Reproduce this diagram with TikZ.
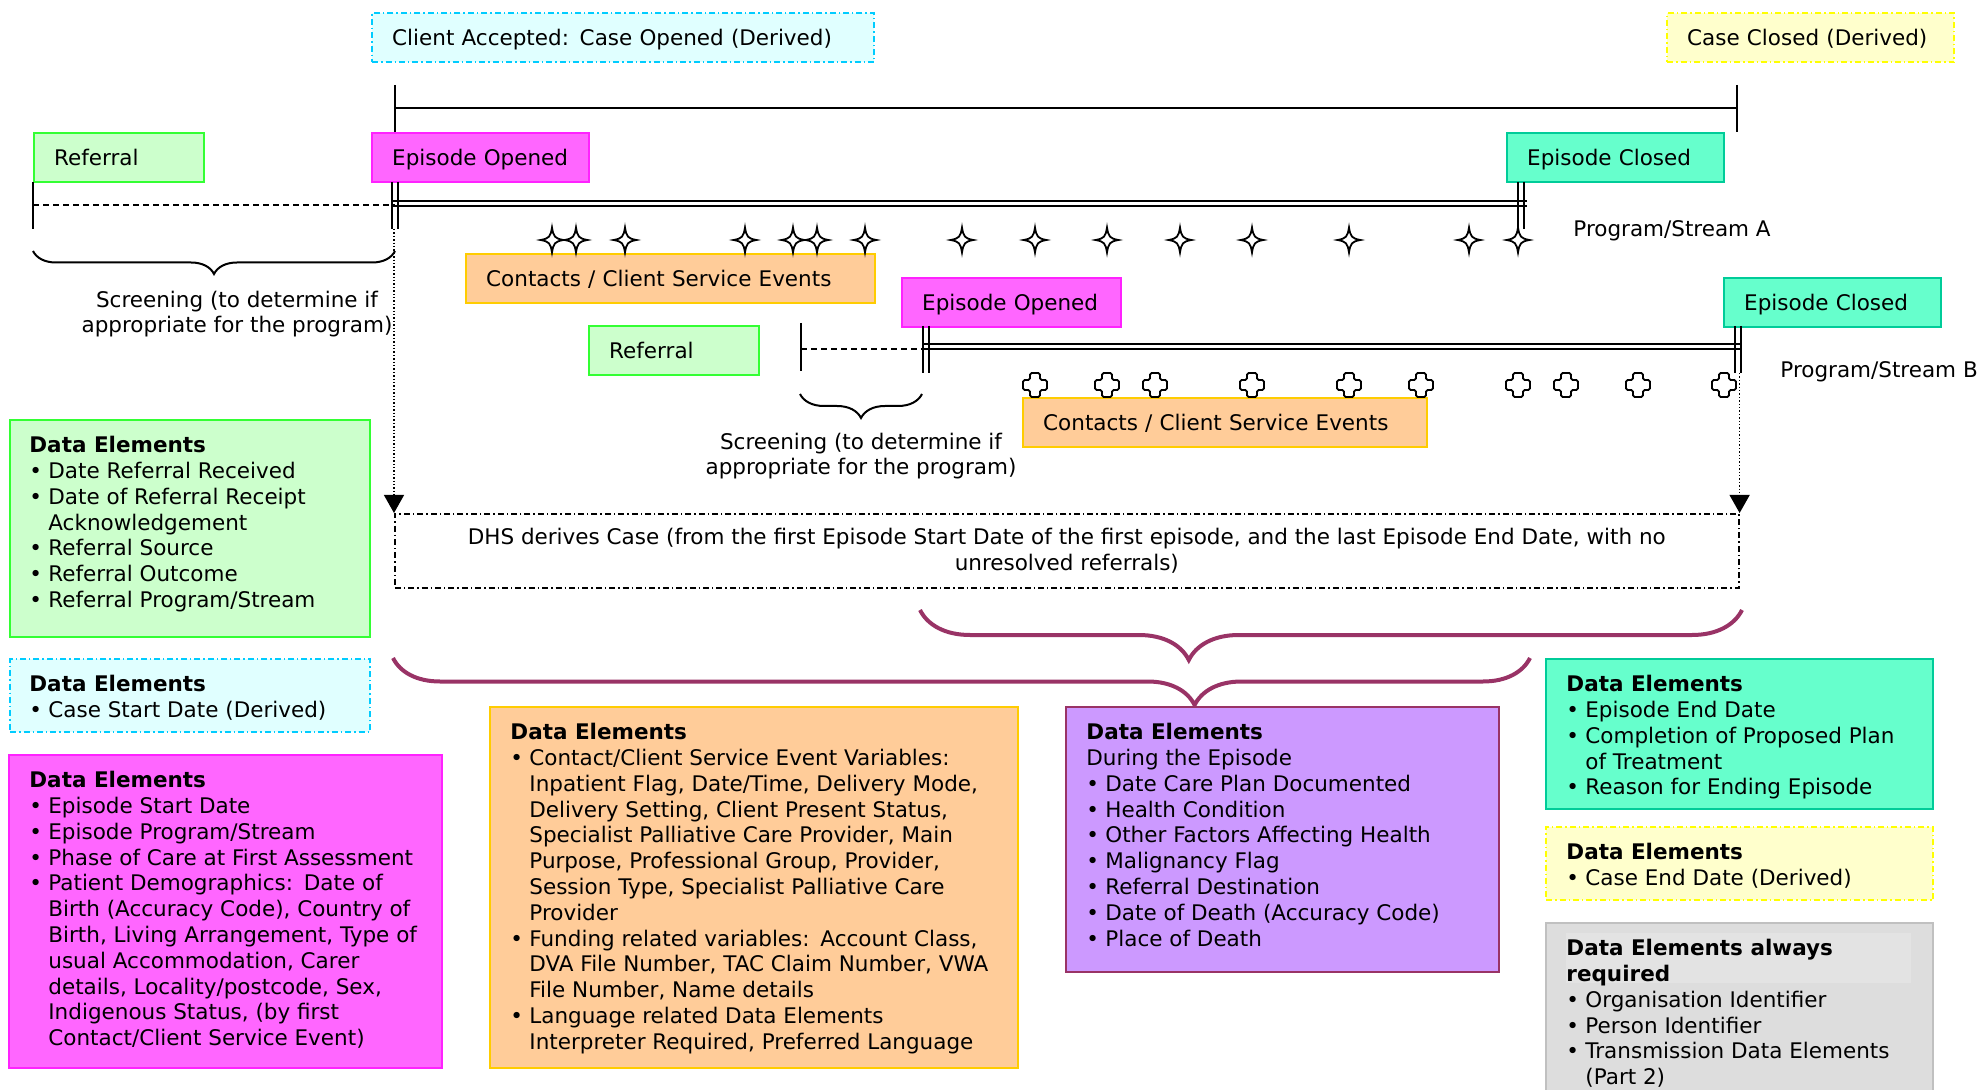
\documentclass[tikz,border=0pt]{standalone}
\usepackage{fontspec}
\setmainfont{DejaVu Sans}
\usetikzlibrary{arrows.meta,decorations.pathreplacing}
\newcommand\fs{\fontsize{10.75}{12.9}\selectfont}
\newcommand\fss{\fontsize{10.75}{12.3}\selectfont}
\newcommand\bl{\makebox[9.5pt][l]{\textbullet}}
\newcommand\ind{\hspace*{9.5pt}}
\definecolor{grnF}{HTML}{CCFFCC}
\definecolor{grnD}{HTML}{33FF33}
\definecolor{magF}{HTML}{FF66FF}
\definecolor{magD}{HTML}{FF22FF}
\definecolor{tealF}{HTML}{66FFCC}
\definecolor{tealD}{HTML}{00CC99}
\definecolor{orgF}{HTML}{FFCC99}
\definecolor{orgD}{HTML}{FFCC00}
\definecolor{purF}{HTML}{CC99FF}
\definecolor{purD}{HTML}{993366}
\definecolor{cyaF}{HTML}{E0FFFF}
\definecolor{cyaD}{HTML}{00CCFF}
\definecolor{yelF}{HTML}{FFFFCC}
\definecolor{yelD}{HTML}{FFFF00}
\definecolor{gryF}{HTML}{DDDDDD}
\definecolor{gryD}{HTML}{C0C0C0}
\definecolor{gryT}{HTML}{E3E3E3}
\definecolor{brc}{HTML}{993366}
\tikzset{
  tag/.style={anchor=north west, draw, line width=1.2pt, font=\fs, align=left,
    inner xsep=10pt, inner ysep=0pt, text height=7.85pt, text depth=0pt, minimum height=24.5pt},
  dbox/.style={anchor=north west, draw, line width=1.2pt, inner sep=0pt},
  dtxt/.style={anchor=north west, inner sep=0pt, font=\fs, align=left},
  lbl/.style={inner sep=0pt, font=\fs},
  dashdot/.style={dash pattern=on 3pt off 1.5pt on 0.7pt off 1.5pt},
  tline/.style={line width=1pt},
  dline/.style={line width=1pt, dash pattern=on 3pt off 2pt},
  dotarrow/.style={line width=0.6pt, dash pattern=on 0.7pt off 1pt, -{Triangle[width=10pt,length=9pt]}},
  pbrace/.style={draw=brc, line width=2pt, decorate},
  sbrace/.style={draw, line width=1pt, decorate},
  fourstar/.pic={\draw[line width=0.9pt, fill=white] (0,-12.5) .. controls (1.5,-3) and (3,-1.5) .. (11.5,0) .. controls (3,1.5) and (1.5,3) .. (0,12.5) .. controls (-1.5,3) and (-3,1.5) .. (-11.5,0) .. controls (-3,-1.5) and (-1.5,-3) .. cycle;},
  plusmark/.pic={\draw[line width=0.9pt, fill=white, rounded corners=0.8pt] (-5,-12) -- (5,-12) -- (5,-5) -- (12,-5) -- (12,5) -- (5,5) -- (5,12) -- (-5,12) -- (-5,5) -- (-12,5) -- (-12,-5) -- (-5,-5) -- cycle;}
}
\begin{document}
\begin{tikzpicture}[x=0.5pt,y=-0.5pt]
\path[use as bounding box] (0,0) rectangle (1986,1090);

% ---------- top derived boxes ----------
\node[tag, fill=cyaF, draw=cyaD, dashdot, text width=231pt] (caseopen) at (371,12) {Client Accepted:\hspace{0.5em}Case Opened (Derived)};
\node[tag, fill=yelF, draw=yelD, dashdot, text width=123.5pt] (caseclose) at (1666,12) {Case Closed (Derived)};

% ---------- case bar ----------
\coordinate (cs1) at (395,85); \coordinate (cs2) at (395,132);
\coordinate (ce1) at (1737,85); \coordinate (ce2) at (1737,132);
\coordinate (csm) at (395,108); \coordinate (cem) at (1737,108);
\draw[tline] (cs1) -- (cs2);
\draw[tline] (ce1) -- (ce2);
\draw[tline] (csm) -- (cem);

% ---------- stream A ----------
\node[tag, fill=grnF, draw=grnD, text width=65pt] (refA) at (33,132) {Referral};
\node[tag, fill=magF, draw=magD, text width=88.5pt] (epoA) at (371,132) {Episode Opened};
\node[tag, fill=tealF, draw=tealD, text width=88.5pt] (epcA) at (1506,132) {Episode Closed};

\coordinate (ra1) at (33,182); \coordinate (ra2) at (33,229);
\draw[tline] (ra1) -- (ra2);
\coordinate (rad1) at (33,205); \coordinate (rad2) at (395,205);
\draw[dline] (rad1) -- (rad2);
\coordinate (ea1) at (395,182); \coordinate (ea2) at (395,229);
\coordinate (ec1) at (1521,182); \coordinate (ec2) at (1521,229);
\coordinate (eh1) at (392,203.5); \coordinate (eh2) at (1527,203.5);
\foreach \s in {-1.3pt,1.3pt}{
  \draw[tline] ([yshift=\s]eh1) -- ([yshift=\s]eh2);
  \draw[tline] ([xshift=\s]ea1) -- ([xshift=\s]ea2);
  \draw[tline] ([xshift=\s]ec1) -- ([xshift=\s]ec2);
}
\node[lbl, anchor=base west] (psA) at (1573,237) {Program/Stream A};

\node[tag, fill=orgF, draw=orgD, text width=184.5pt] (conA) at (465,253) {Contacts / Client Service Events};
\foreach \x in {552,576,625,745,793,817,865,962,1035,1107,1180,1252,1349,1469,1518}
  \pic at (\x,240) {fourstar};

\draw[sbrace, decoration={brace, amplitude=11.5pt, mirror}] (ra2) ++(0,22) coordinate (sbA1) -- (395,251) coordinate (sbA2);
\node[lbl, align=center, font=\fss, anchor=north] (scrA) at (237,291) {Screening (to determine if\\appropriate for the program)};

% ---------- stream B ----------
\node[tag, fill=grnF, draw=grnD, text width=65pt] (refB) at (588,325) {Referral};
\node[tag, fill=magF, draw=magD, text width=89.5pt] (epoB) at (901,277) {Episode Opened};
\node[tag, fill=tealF, draw=tealD, text width=88.5pt] (epcB) at (1723,277) {Episode Closed};

\coordinate (rb1) at (801,323); \coordinate (rb2) at (801,371);
\draw[tline] (rb1) -- (rb2);
\coordinate (rbd1) at (801,349); \coordinate (rbd2) at (926,349);
\draw[dline] (rbd1) -- (rbd2);
\coordinate (eb1) at (926,326); \coordinate (eb2) at (926,373);
\coordinate (eb3) at (1738,326); \coordinate (eb4) at (1738,373);
\coordinate (ebh1) at (923,346.5); \coordinate (ebh2) at (1741,346.5);
\foreach \s in {-1.3pt,1.3pt}{
  \draw[tline] ([yshift=\s]ebh1) -- ([yshift=\s]ebh2);
  \draw[tline] ([xshift=\s]eb1) -- ([xshift=\s]eb2);
  \draw[tline] ([xshift=\s]eb3) -- ([xshift=\s]eb4);
}
\node[lbl, anchor=base west] (psB) at (1780,378) {Program/Stream B};

\node[tag, fill=orgF, draw=orgD, text width=182pt] (conB) at (1022,397) {Contacts / Client Service Events};
\foreach \x in {1035,1107,1155,1252,1349,1421,1518,1566,1638,1724}
  \pic at (\x,385) {plusmark};

\draw[sbrace, decoration={brace, amplitude=12pt, mirror}] (800,394) coordinate (sbB1) -- (922,394) coordinate (sbB2);
\node[lbl, align=center, font=\fss, anchor=north] (scrB) at (861,433) {Screening (to determine if\\appropriate for the program)};

% ---------- DHS derived case ----------
\node[anchor=north west, draw, line width=0.8pt, dashdot, minimum width=672pt, minimum height=37pt,
  inner sep=0pt, font=\fs, align=center] (dhs) at (394,513)
  {DHS derives Case (from the first Episode Start Date of the first episode, and the last Episode End Date, with no\\unresolved referrals)};
\draw[dotarrow] (dhs.north west |- ea2) -- (dhs.north west);
\draw[dotarrow] (dhs.north east |- eb4) -- (dhs.north east);

% ---------- purple braces ----------
\draw[pbrace, decoration={brace, amplitude=25pt, aspect=0.327, mirror}] (920,610) coordinate (pb1) -- (1742,610) coordinate (pb2);
\draw[pbrace, decoration={brace, amplitude=23.5pt, aspect=0.705, mirror}] (393,658) coordinate (pb3) -- (1530,658) coordinate (pb4);

% ---------- data element boxes ----------
\node[dbox, fill=grnF, draw=grnD, minimum width=180pt, minimum height=108.5pt] (gbox) at (9,419) {};
\node[dtxt] (gtxt) at ([xshift=10pt,yshift=-8.5pt]gbox.north west)
 {\textbf{Data Elements}\\
  \bl Date Referral Received\\
  \bl Date of Referral Receipt\\
  \ind Acknowledgement\\
  \bl Referral Source\\
  \bl Referral Outcome\\
  \bl Referral Program/Stream};

\node[dbox, fill=cyaF, draw=cyaD, dashdot, minimum width=180pt, minimum height=36.5pt] (cbox) at (9,658) {};
\node[dtxt] (ctxt) at ([xshift=10pt,yshift=-8.5pt]cbox.north west)
 {\textbf{Data Elements}\\
  \bl Case Start Date (Derived)};

\node[dbox, fill=magF, draw=magD, minimum width=216.5pt, minimum height=156.5pt] (mbox) at (8,754) {};
\node[dtxt] (mtxt) at ([xshift=10.5pt,yshift=-8.5pt]mbox.north west)
 {\textbf{Data Elements}\\
  \bl Episode Start Date\\
  \bl Episode Program/Stream\\
  \bl Phase of Care at First Assessment\\
  \bl Patient Demographics:\hspace{0.5em}Date of\\
  \ind Birth (Accuracy Code), Country of\\
  \ind Birth, Living Arrangement, Type of\\
  \ind usual Accommodation, Carer\\
  \ind details, Locality/postcode, Sex,\\
  \ind Indigenous Status, (by first\\
  \ind Contact/Client Service Event)};

\node[dbox, fill=orgF, draw=orgD, minimum width=264pt, minimum height=180.5pt] (obox) at (489,706) {};
\node[dtxt] (otxt) at ([xshift=10.5pt,yshift=-8.5pt]obox.north west)
 {\textbf{Data Elements}\\
  \bl Contact/Client Service Event Variables:\\
  \ind Inpatient Flag, Date/Time, Delivery Mode,\\
  \ind Delivery Setting, Client Present Status,\\
  \ind Specialist Palliative Care Provider, Main\\
  \ind Purpose, Professional Group, Provider,\\
  \ind Session Type, Specialist Palliative Care\\
  \ind Provider\\
  \bl Funding related variables:\hspace{0.5em}Account Class,\\
  \ind DVA File Number, TAC Claim Number, VWA\\
  \ind File Number, Name details\\
  \bl Language related Data Elements\\
  \ind Interpreter Required, Preferred Language};

\node[dbox, fill=purF, draw=purD, minimum width=216.5pt, minimum height=132.5pt] (pbox) at (1065,706) {};
\node[dtxt] (ptxt) at ([xshift=10.5pt,yshift=-8.5pt]pbox.north west)
 {\textbf{Data Elements}\\
  During the Episode\\
  \bl Date Care Plan Documented\\
  \bl Health Condition\\
  \bl Other Factors Affecting Health\\
  \bl Malignancy Flag\\
  \bl Referral Destination\\
  \bl Date of Death (Accuracy Code)\\
  \bl Place of Death};

\node[dbox, fill=tealF, draw=tealD, minimum width=193.5pt, minimum height=75pt] (tbox) at (1545,658) {};
\node[dtxt] (ttxt) at ([xshift=10.5pt,yshift=-8.5pt]tbox.north west)
 {\textbf{Data Elements}\\
  \bl Episode End Date\\
  \bl Completion of Proposed Plan\\
  \ind of Treatment\\
  \bl Reason for Ending Episode};

\node[dbox, fill=yelF, draw=yelD, dashdot, minimum width=193.5pt, minimum height=36.5pt] (ybox) at (1545,826) {};
\node[dtxt] (ytxt) at ([xshift=10.5pt,yshift=-8.5pt]ybox.north west)
 {\textbf{Data Elements}\\
  \bl Case End Date (Derived)};

\node[dbox, fill=gryF, draw=gryD, minimum width=193.5pt, minimum height=88pt] (grbox) at (1545,922) {};
\fill[gryT] (1566,933) rectangle (1911,983);
\node[dtxt] (grtxt) at ([xshift=10.5pt,yshift=-8.5pt]grbox.north west)
 {\textbf{Data Elements always}\\
  \textbf{required}\\
  \bl Organisation Identifier\\
  \bl Person Identifier\\
  \bl Transmission Data Elements\\
  \ind (Part 2)};
\end{tikzpicture}
\end{document}
